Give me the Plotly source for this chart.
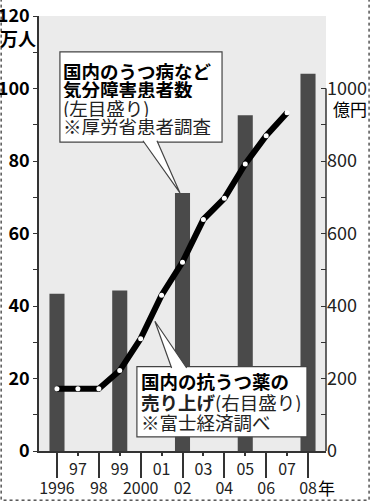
import plotly.graph_objects as go

# ---- data ----
bar_years = [1996, 1999, 2002, 2005, 2008]
patients = [43.4, 44.3, 71.2, 92.6, 104.1]          # 万人 (left axis)
sales_years = list(range(1996, 2008))
sales = [172, 172, 172, 222, 310, 430, 521, 639, 697, 792, 870, 933]  # 億円 (right axis)

even_years = [1996, 1998, 2000, 2002, 2004, 2006, 2008]
even_labels = ["1996", "98", "2000", "02", "04", "06", "08"]
odd_years = [1997, 1999, 2001, 2003, 2005, 2007]
odd_labels = ["97", "99", "01", "03", "05", "07"]

left_ticks = list(range(0, 121, 10))
left_labels = [str(v) if v % 20 == 0 else "" for v in left_ticks]
right_ticks = list(range(0, 1001, 100))
right_labels = [str(v) if v % 200 == 0 else "" for v in right_ticks]

XR = [1995.14, 2008.86]
NUM = "Noto Sans CJK JP, Noto Sans, sans-serif"
CJK = "Noto Sans CJK JP, sans-serif"
AX = "#333333"

fig = go.Figure()
fig.add_trace(go.Bar(x=bar_years, y=patients, width=0.72,
                     marker=dict(color="#4a4a4a", line=dict(width=0)),
                     xaxis="x", yaxis="y", hoverinfo="skip"))
fig.add_trace(go.Scatter(x=sales_years, y=sales, mode="lines+markers",
                         line=dict(color="black", width=6),
                         marker=dict(color="white", size=5, line=dict(width=0)),
                         xaxis="x", yaxis="y2", hoverinfo="skip"))
fig.add_trace(go.Scatter(x=[], y=[], xaxis="x2", yaxis="y", showlegend=False,
                         hoverinfo="skip"))
fig.add_trace(go.Scatter(x=[], y=[], xaxis="x3", yaxis="y", showlegend=False,
                         hoverinfo="skip"))

fig.update_layout(
    width=371, height=502,
    margin=dict(l=39, r=45, t=16, b=51, autoexpand=False),
    paper_bgcolor="white", plot_bgcolor="#ebebeb",
    showlegend=False,
    # even-year labels (bottom row)
    xaxis=dict(range=XR, tickmode="array", tickvals=even_years, ticktext=even_labels,
               ticks="outside", ticklen=22, tickwidth=1.5, tickcolor=AX,
               showline=True, linecolor=AX, linewidth=1.5, automargin=False,
               showgrid=False, zeroline=False,
               tickfont=dict(family=NUM, size=16, color="#222")),
    # odd-year labels (top row) with short ticks
    xaxis2=dict(range=XR, overlaying="x", anchor="y", side="bottom",
                tickmode="array", tickvals=odd_years, ticktext=odd_labels,
                ticks="outside", ticklen=4, tickwidth=1.5, tickcolor=AX,
                showline=False, showgrid=False, zeroline=False, automargin=False,
                tickfont=dict(family=NUM, size=16, color="#222")),
    # long even-year ticks
    xaxis3=dict(range=XR, overlaying="x", anchor="y", side="bottom",
                tickmode="array", tickvals=even_years, showticklabels=False,
                ticks="outside", ticklen=26, tickwidth=1.5, tickcolor=AX,
                showline=False, showgrid=False, zeroline=False, automargin=False),
    yaxis=dict(range=[0, 120.01], tickmode="array", tickvals=left_ticks, ticktext=left_labels,
               ticks="outside", ticklen=4, tickwidth=1.2, tickcolor=AX,
               showline=True, linecolor=AX, linewidth=1.5, automargin=False,
               showgrid=False, zeroline=False,
               tickfont=dict(family=NUM, size=18, color="black", weight="bold")),
    yaxis2=dict(range=[0, 1200.1], overlaying="y", side="right", anchor="x",
                tickmode="array", tickvals=right_ticks, ticktext=right_labels,
                ticks="inside", ticklen=5, tickwidth=1.2, tickcolor=AX,
                showline=False, showgrid=False, zeroline=False, automargin=False,
                tickfont=dict(family=NUM, size=18, color="#222")),
)

shapes = []
# right axis line from 0 to 1000
shapes.append(dict(type="line", xref="paper", x0=1, x1=1, yref="y2", y0=0, y1=1000,
                   line=dict(color=AX, width=1.5), layer="above"))
# dotted frame (left, bottom, right)
shapes.append(dict(type="path", xref="paper", yref="paper",
                   path="M -0.132,1.04 L -0.132,-0.113 L 1.150,-0.113 L 1.150,1.04",
                   line=dict(color="black", width=1, dash="dot")))

# callout 1 (patients)
b1 = dict(x0=1996.14, x1=2003.89, y0=85.2, y1=110.1)
shapes.append(dict(type="rect", xref="x", yref="y", **b1,
                   fillcolor="white", line=dict(color="#444", width=1.2), layer="above"))
apex1 = (2002 - 0.12, patients[2])
shapes.append(dict(type="path", xref="x", yref="y",
                   path=f"M 2000.11,{b1['y0']+0.4} L {apex1[0]},{apex1[1]} L 2000.78,{b1['y0']+0.4}",
                   fillcolor="white", line=dict(color="#444", width=1.2), layer="above"))

# callout 2 (sales)
b2 = dict(x0=1999.82, x1=2007.95, y0=3.9, y1=23.3)
shapes.append(dict(type="rect", xref="x", yref="y", **b2,
                   fillcolor="white", line=dict(color="#444", width=1.2), layer="above"))
apex2 = (2000.68, 35.8)
shapes.append(dict(type="path", xref="x", yref="y",
                   path=f"M 2001.48,{b2['y1']-0.4} L {apex2[0]},{apex2[1]} L 2002.2,{b2['y1']-0.4}",
                   fillcolor="white", line=dict(color="#444", width=1.2), layer="above"))
fig.update_layout(shapes=shapes)

ann = []
def txt(x, y, s, size=18.5, color="black", xref="x", yref="y", xanchor="left", h=None):
    d = dict(x=x, y=y, xref=xref, yref=yref, text=s, showarrow=False,
             xanchor=xanchor, yanchor="middle", borderpad=0,
             font=dict(family=CJK, size=size, color=color))
    if h:
        d["height"] = h
    ann.append(d)

txt(1996.24, 104.8, "<b>国内のうつ病など</b>", h=18)
txt(1996.24, 99.9, "<b>気分障害患者数</b>", h=18)
txt(1996.24, 94.6, "(左目盛り)", color="#222", h=18)
txt(1996.24, 89.7, "※厚労省患者調査", color="#222", h=18)

txt(1999.98, 19.3, "<b>国内の抗うつ薬の</b>", h=20)
txt(1999.98, 13.5, "<b>売り上げ</b>(右目盛り)", color="#222", h=20)
txt(1999.98, 8.0, "※富士経済調べ", color="#222", h=20)

# unit labels
txt(-0.073, 0.949, "<b>万人</b>", size=18, xref="paper", yref="paper", xanchor="center")
txt(1.02, 0.788, "億円", size=17, xref="paper", yref="paper")
txt(2008.45, -0.085, "年", size=17, yref="paper")
fig.update_layout(annotations=ann)

fig.write_html("out.html")
